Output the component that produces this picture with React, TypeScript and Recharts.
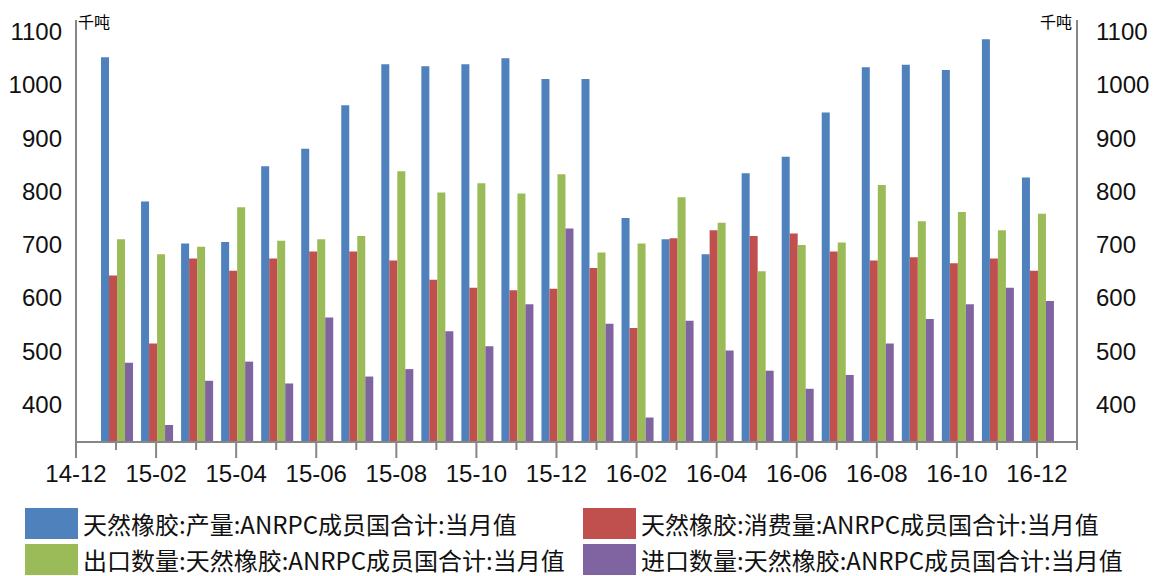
import * as React from "react";
import { BarChart, Bar, XAxis, YAxis } from "recharts";

// axis runs from 14-12 to 17-01, data only for 15-01 .. 16-12
const months = [
  "14-12", "15-01", "15-02", "15-03", "15-04", "15-05", "15-06", "15-07", "15-08",
  "15-09", "15-10", "15-11", "15-12", "16-01", "16-02", "16-03", "16-04", "16-05",
  "16-06", "16-07", "16-08", "16-09", "16-10", "16-11", "16-12", "17-01",
];

const production = [1052, 781, 702, 705, 847, 880, 962, 1039, 1035, 1039, 1050, 1011, 1011, 750, 710, 682, 834, 865, 948, 1033, 1038, 1028, 1086, 826];
const consumption = [642, 514, 674, 651, 674, 687, 687, 670, 634, 619, 614, 617, 656, 543, 712, 727, 716, 721, 687, 670, 676, 665, 674, 651];
const exportsQty = [710, 682, 696, 770, 707, 710, 716, 838, 798, 815, 796, 832, 685, 702, 789, 741, 650, 699, 704, 812, 744, 761, 727, 758];
const importsQty = [478, 361, 444, 480, 439, 563, 452, 466, 537, 509, 588, 730, 551, 375, 557, 501, 463, 429, 455, 514, 560, 588, 619, 594];

const yTicks = [400, 500, 600, 700, 800, 900, 1000, 1100];

const seriesDefs = [
  { key: "prod", name: "天然橡胶:产量:ANRPC成员国合计:当月值", color: "#4F81BD", values: production },
  { key: "cons", name: "天然橡胶:消费量:ANRPC成员国合计:当月值", color: "#C0504D", values: consumption },
  { key: "exp", name: "出口数量:天然橡胶:ANRPC成员国合计:当月值", color: "#9BBB59", values: exportsQty },
  { key: "imp", name: "进口数量:天然橡胶:ANRPC成员国合计:当月值", color: "#8064A2", values: importsQty },
];

const data = months.map((m, i) => {
  const row: Record<string, string | number | null> = { m };
  for (const s of seriesDefs) {
    const v = s.values[i - 1];
    row[s.key] = v === undefined ? null : v;
  }
  return row;
});

const AXIS = "#868686";
const NUM_FONT = "'Liberation Sans', Arial, sans-serif";
const CJK_FONT = "'Noto Sans CJK SC', 'Noto Sans', sans-serif";

function MonthTick(props: any) {
  const { x, y, payload } = props;
  const label = String(payload.value);
  const major = Number(label.slice(3)) % 2 === 0;
  return (
    <g>
      <line x1={x} x2={x} y1={y} y2={y + (major ? 16 : 8)} stroke={AXIS} strokeWidth={2} />
      {major && (
        <text x={x} y={y + 40} textAnchor="middle" fontSize={24} fontFamily={NUM_FONT} fill="#111">
          {label}
        </text>
      )}
    </g>
  );
}

export default function App() {
  return (
    <div style={{ position: "absolute", left: 0, top: 0, width: 1157, height: 576, background: "#fff", overflow: "hidden" }}>
      <BarChart
        width={1157}
        height={576}
        data={data}
        margin={{ top: 20, right: 0, bottom: 84, left: 0 }}
        barCategoryGap="12.5%"
        barGap={0}
      >
        <XAxis
          dataKey="m"
          scale="point"
          interval={0}
          height={50}
          tickSize={0}
          tickMargin={0}
          tickLine={false}
          axisLine={{ stroke: AXIS, strokeWidth: 2 }}
          tick={<MonthTick />}
        />
        <YAxis
          yAxisId="left"
          width={76}
          domain={[329, 1122]}
          allowDataOverflow
          ticks={yTicks}
          tickLine={false}
          tickMargin={8}
          axisLine={{ stroke: AXIS, strokeWidth: 2 }}
          tick={{ fontSize: 24, fill: "#111", fontFamily: NUM_FONT }}
        />
        <YAxis
          yAxisId="right"
          orientation="right"
          width={80}
          domain={[329, 1122]}
          allowDataOverflow
          ticks={yTicks}
          tickLine={false}
          tickMargin={13}
          axisLine={{ stroke: AXIS, strokeWidth: 2 }}
          tick={{ fontSize: 24, fill: "#111", fontFamily: NUM_FONT, textAnchor: "start" }}
        />
        {seriesDefs.map((s) => (
          <Bar key={s.key} yAxisId="left" dataKey={s.key} name={s.name} fill={s.color} isAnimationActive={false} />
        ))}
      </BarChart>

      <div style={{ position: "absolute", left: 78, top: 12, fontSize: 16, fontFamily: CJK_FONT, lineHeight: "18px" }}>千吨</div>
      <div style={{ position: "absolute", left: 1040, top: 12, fontSize: 16, fontFamily: CJK_FONT, lineHeight: "18px" }}>千吨</div>

      {seriesDefs.map((s, i) => (
        <div
          key={s.key}
          style={{
            position: "absolute",
            left: i % 2 === 0 ? 25 : 583,
            top: i < 2 ? 508 : 544,
            display: "flex",
            alignItems: "center",
            height: 31,
          }}
        >
          <span style={{ display: "inline-block", width: 53, height: 31, background: s.color }} />
          <span style={{ marginLeft: 5, fontSize: 24, fontFamily: CJK_FONT, color: "#111", whiteSpace: "nowrap", lineHeight: "24px" }}>
            {s.name}
          </span>
        </div>
      ))}
    </div>
  );
}
